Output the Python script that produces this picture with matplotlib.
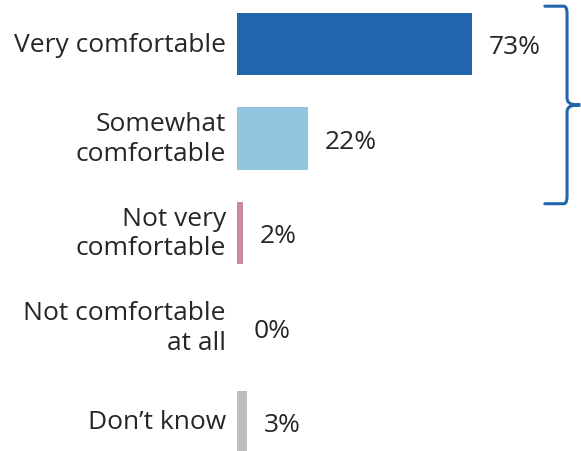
import matplotlib.pyplot as plt
from matplotlib.path import Path
from matplotlib.patches import PathPatch

categories = ["Very comfortable", "Somewhat\ncomfortable", "Not very\ncomfortable",
              "Not comfortable\nat all", "Don\u2019t know"]
values = [73, 22, 2, 0, 3]
colors = ["#2166ac", "#92c5de", "#c98aa0", "#bdbdbd", "#bdbdbd"]

plt.rcParams['font.family'] = ['Open Sans', 'DejaVu Sans']
text_color = "#262626"

fig = plt.figure(figsize=(5.81, 4.52), dpi=100)
ax = fig.add_axes([237 / 581, 0, 1 - 237 / 581, 1])

ypos = list(range(len(values)))
ax.barh(ypos, values, height=0.66, color=colors)

ax.set_xlim(0, (581 - 237) / 3.22)
ax.set_ylim((452 - 45) / 94.5, -45 / 94.5)
ax.axis("off")

for y, v, label in zip(ypos, values, categories):
    ax.annotate(label, (0, y), xytext=(-8, 0), textcoords="offset points",
                ha="right", va="center", fontsize=19, color=text_color,
                linespacing=1.25, annotation_clip=False)
    ax.annotate(f"{v}%", (v, y), xytext=(12, -2), textcoords="offset points",
                ha="left", va="center", fontsize=19, color=text_color,
                annotation_clip=False)

# curly bracket around the two "comfortable" bars
x0, x1, x2 = 95.6, 102.5, 106.6
ytop, ybot = -0.40, 1.69
ymid = (ytop + ybot) / 2
r = 0.08
verts = [
    (x0, ytop), (x1 - 1.0, ytop), (x1, ytop), (x1, ytop + r),
    (x1, ymid - r),
    (x1, ymid - 0.02), (x1 + 1.0, ymid), (x2, ymid),
    (x1 + 1.0, ymid), (x1, ymid + 0.02), (x1, ymid + r),
    (x1, ybot - r),
    (x1, ybot), (x1 - 1.0, ybot), (x0, ybot),
]
codes = [
    Path.MOVETO, Path.LINETO, Path.CURVE3, Path.CURVE3,
    Path.LINETO,
    Path.CURVE4, Path.CURVE4, Path.CURVE4,
    Path.CURVE4, Path.CURVE4, Path.CURVE4,
    Path.LINETO,
    Path.CURVE3, Path.CURVE3, Path.LINETO,
]
ax.add_patch(PathPatch(Path(verts, codes), facecolor="none", edgecolor="#2166ac",
                       lw=2.2, clip_on=False, capstyle="round"))

fig.savefig("out.png", dpi=100)
